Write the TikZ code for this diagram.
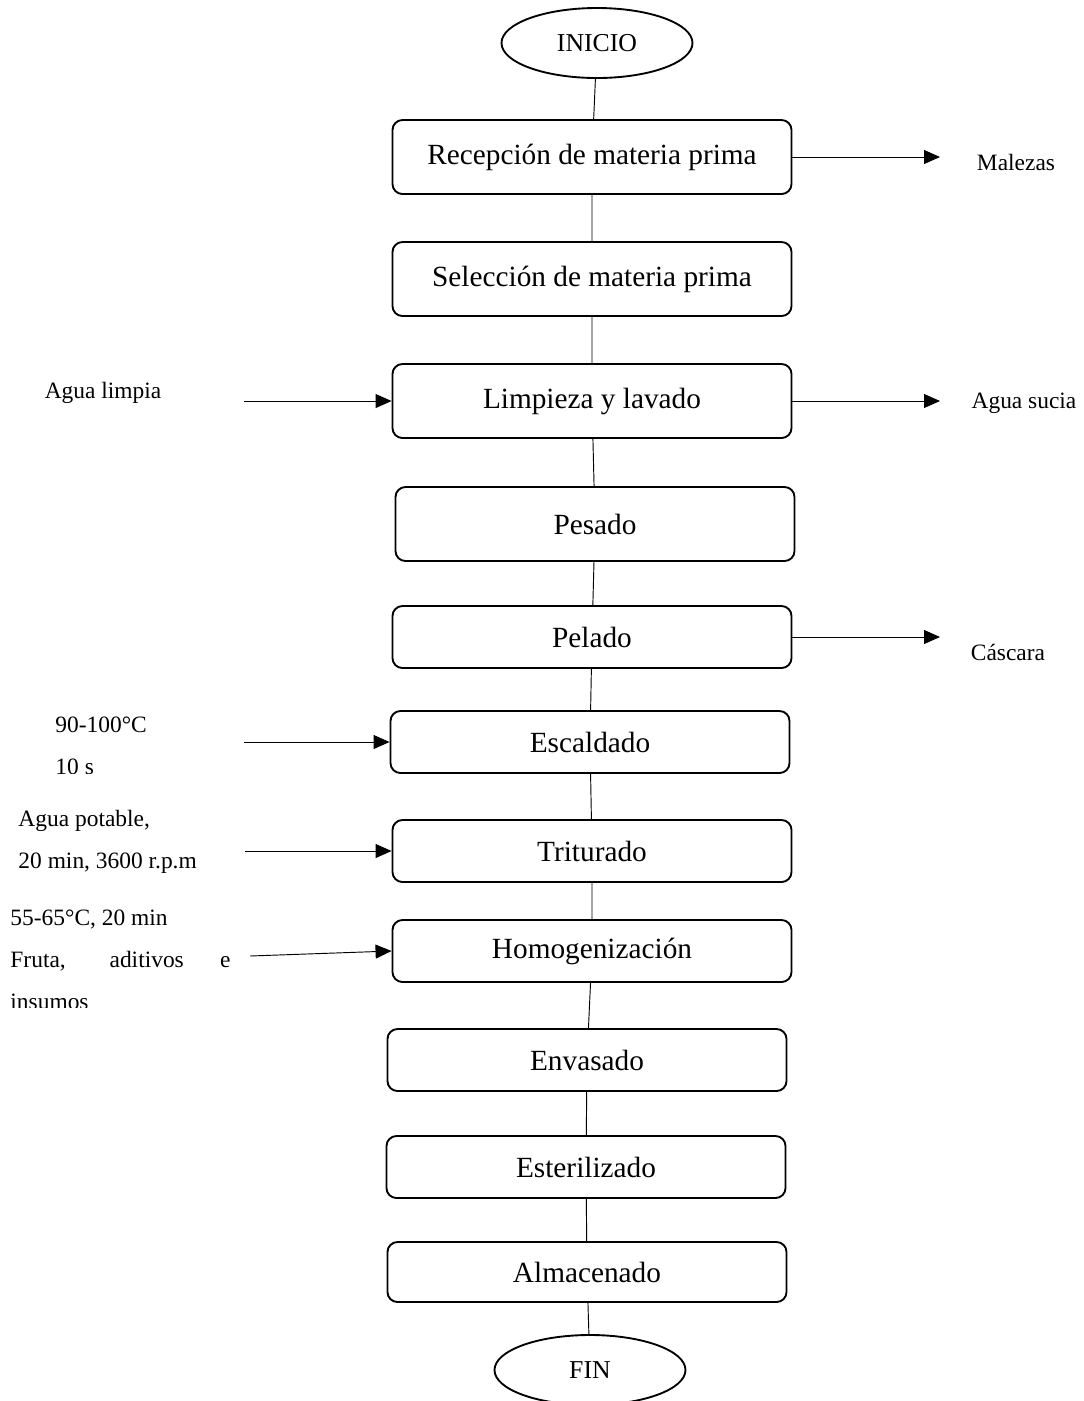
\documentclass[tikz,border=0pt]{standalone}
\usepackage{fontspec}
\setmainfont{Liberation Serif}
\usepackage{tikz}
\usetikzlibrary{arrows.meta}
\usetikzlibrary{shapes.geometric}
\usetikzlibrary{positioning}

\begin{document}
\begin{tikzpicture}[x=0.015cm,y=-0.015cm,
  box/.style={draw,thick,rounded corners=0.15cm,minimum width=5.985cm,minimum height=0.93cm,font=\fontsize{12.5}{14}\selectfont},
  tall/.style={box,minimum height=1.11cm},
  term/.style={draw,thick,ellipse,minimum width=2.865cm,minimum height=1.05cm,inner sep=0pt,font=\fontsize{11}{13}\selectfont},
  side/.style={font=\fontsize{10}{18}\selectfont,inner sep=0pt,align=left},
  arr/.style={-{Triangle[length=0.24cm,width=0.21cm]}}]
\useasboundingbox (0,0) rectangle (1084,1401);
  \node[term] (0) at (597,43) {INICIO};
  \node[tall] (1) at (592,157) {Recepción de materia prima};
  \node[tall] (2) at (592,279) {Selección de materia prima};
  \node[tall] (3) at (592,401) {Limpieza y lavado};
  \node[tall] (4) at (595,524) {Pesado};
  \node[box] (5) at (592,637) {Pelado};
  \node[box] (6) at (590,742) {Escaldado};
  \node[box] (7) at (592,851) {Triturado};
  \node[box] (8) at (592,951) {Homogenización};
  \node[box] (9) at (587,1060) {Envasado};
  \node[box] (10) at (586,1167) {Esterilizado};
  \node[box,minimum height=0.9cm] (11) at (587,1272) {Almacenado};
  \node[term] (12) at (590,1370) {FIN};
  \draw (0)--(1)--(2)--(3)--(4)--(5)--(6)--(7)--(8)--(9)--(10)--(11)--(12);
% salidas
\coordinate (m) at (940,157);
\coordinate (s) at (940,401);
\coordinate (c) at (940,637);
\node[side] (mal) at (1016,162) {Malezas};
\node[side] (asu) at (1024,403) {Agua sucia};
\node[side] (cas) at (1008,652) {Cáscara};
  \draw[arr](1)--(m);
  \draw[arr](3)--(s);
  \draw[arr](5)--(c);
% entradas
\coordinate (e3) at (244,401);
\coordinate (e6) at (244,742);
\coordinate (e7) at (245,851);
\coordinate (e8) at (250,956);
\node[side] (alim) at (103,393) {Agua limpia};
\begin{scope}
\clip (0,700) rectangle (400,773);
\node[side,anchor=west] (temp) at (55,746) {90-100°C\\10 s};
\end{scope}
\node[side,anchor=west] (agp) at (18,842) {Agua potable,\\20 min, 3600 r.p.m};
\begin{scope}
\clip (0,890) rectangle (400,1007);
\node[side,anchor=west] (fru) at (10,960) {55-65°C, 20 min\\\makebox[3.3cm][s]{Fruta, aditivos e}\\insumos};
\end{scope}
  \draw[arr](e3)--(3);
  \draw[arr](e6)--(6);
  \draw[arr](e7)--(7);
  \draw[arr](e8)--(8.west);
\end{tikzpicture}
\end{document}
